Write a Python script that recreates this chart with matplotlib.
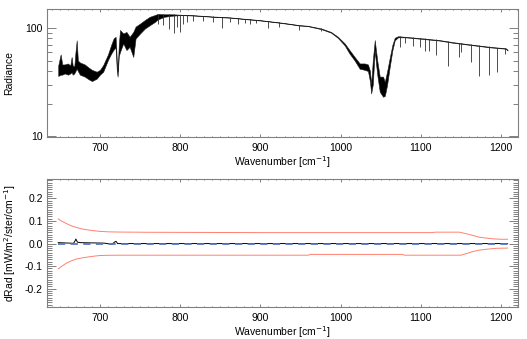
import matplotlib
matplotlib.use("Agg")
import matplotlib.pyplot as plt
from matplotlib.ticker import FixedLocator, MultipleLocator, NullFormatter

plt.rcParams['font.family'] = ['Liberation Sans', 'DejaVu Sans']

# ---------------- Top panel: radiance spectrum (envelope of noisy spectrum) ----------------
spec_wn = [648, 651, 653, 656, 660, 663, 664.7, 666, 668, 669.5, 671, 672.5, 675, 681, 686, 690,
           696, 700, 704, 710, 714, 717, 719.5, 721, 722, 723.5, 725, 729, 733, 737, 741.5, 744.4,
           750, 756, 762, 768.5, 772, 780, 790, 800, 810, 820, 840, 862, 880, 899, 910, 923, 935,
           948, 959, 976, 988, 996.5, 1005, 1011, 1017.4, 1023.7, 1030, 1034, 1036.5, 1038, 1040,
           1042.5, 1044, 1045.8, 1048.7, 1052.8, 1055, 1057.8, 1061, 1064.4, 1067.4, 1071.5, 1080,
           1100, 1123, 1140, 1161, 1186, 1205.6, 1208]
spec_hi = [45, 57, 46, 46, 47, 45, 54, 45, 44, 60, 77, 50, 48, 46, 43, 41,
           39.4, 41, 45.4, 57, 70, 80, 83, 50, 40, 70, 96, 89, 92, 83, 92, 103,
           110, 118.6, 127, 132, 135, 134, 134, 133, 132, 131, 128, 125.6, 122, 118.6, 116, 113, 110,
           106.6, 105, 99, 92, 83, 72, 62.5, 54, 47, 47, 46, 40, 30, 50,
           77.4, 62, 48.7, 35.5, 35.5, 31.8, 39.4, 52.4, 69.6, 81.3, 84, 83,
           80.5, 77.4, 74, 70.6, 67, 65, 63]
spec_lo = [36, 37, 37, 38, 37, 38, 39, 37, 38, 40, 42, 40, 37, 35.5, 33.5, 32.3,
           34, 37, 39.4, 50.6, 58, 63, 66, 40, 35.5, 55, 60, 72, 62.5, 67, 54, 80,
           89, 99, 106, 114, 120, 127, 130, 131.5, 131, 130, 127, 124.5, 121, 117.5, 115, 112, 109,
           105.5, 104, 97.5, 90.5, 81, 69, 58, 50, 42, 41, 40, 32, 24.8, 30,
           62, 47, 36, 25.7, 23.1, 23.5, 29.6, 43, 62, 77, 82, 82,
           79.5, 76.5, 73, 69.8, 66.2, 64.3, 62]

# absorption lines: position, continuum level, line-core radiance
line_wn = [772.5, 778, 786, 792.5, 795.5, 799.6, 803.8, 808.7, 815.4, 828.6, 841, 852.7, 862, 872,
           880.6, 886.8, 894, 909.6, 923, 948, 975.7, 1074.4, 1079.8, 1090.2, 1098.5, 1104.7, 1110,
           1119, 1133.8, 1147.5, 1150.4, 1162.9, 1172, 1184.4, 1195.2, 1204.3]
line_top = [134, 134, 134, 134, 133, 133, 133, 132, 131.5, 130, 128, 126.5, 125, 123,
            122, 121, 119.5, 116, 113, 106.6, 99, 84, 83, 82, 80.5, 80, 79.5,
            78.5, 75.5, 72.5, 72, 70.5, 69, 67.5, 66, 65]
line_bot = [108, 106, 98, 89, 103, 91, 110, 113, 116, 117, 114, 101, 113, 109,
            111, 109, 111, 99, 103, 96, 93.8, 67, 72, 68.6, 67, 61, 61,
            56, 44.8, 54, 60, 48.7, 36.2, 36.7, 39.4, 58]

# ---------------- Bottom panel: radiance differences ----------------
err_hi_wn = [648, 653, 658, 664, 670, 677, 684, 692, 700, 710, 725, 760, 900, 1113, 1118, 1148,
             1157, 1165, 1173, 1182, 1190, 1200, 1208]
err_hi = [0.109, 0.098, 0.089, 0.079, 0.072, 0.065, 0.061, 0.057, 0.054, 0.052, 0.051, 0.050,
          0.0485, 0.0485, 0.0505, 0.0505, 0.043, 0.036, 0.028, 0.024, 0.021, 0.019, 0.019]
err_lo_wn = [648, 653, 658, 664, 670, 677, 684, 692, 700, 710, 725, 800, 960, 962, 1076, 1080,
             1150, 1158, 1165, 1173, 1182, 1194, 1208]
err_lo = [-0.112, -0.099, -0.087, -0.077, -0.069, -0.064, -0.060, -0.056, -0.053, -0.052, -0.0515,
          -0.0515, -0.0515, -0.048, -0.048, -0.0515, -0.0515, -0.043, -0.035, -0.029, -0.025,
          -0.021, -0.020]
res_wn = [648, 655, 662, 667, 669, 670, 672, 676, 690, 705, 715, 718, 720, 722, 740, 800, 900,
          1000, 1100, 1208]
res = [0.004, 0.003, 0.002, 0.001, 0.012, 0.020, 0.006, 0.004, 0.003, 0.002, -0.003, 0.006,
       0.010, 0.000, 0.000, 0.000, 0.000, 0.000, 0.000, 0.000]
bias_wn = [648, 1208]
bias = [0.0, 0.0]

xticks = [700, 800, 900, 1000, 1100, 1200]

W, H = 527, 339
fig = plt.figure(figsize=(W / 100, H / 100), dpi=100)

left, right = 47 / W, 518 / W
ax1 = fig.add_axes([left, 1 - 137 / H, right - left, 128 / H])
ax2 = fig.add_axes([left, 1 - 307 / H, right - left, 128 / H])

spine_col = '#808080'
fs = 7.5

# top panel
ax1.fill_between(spec_wn, spec_lo, spec_hi, facecolor='black', edgecolor='#202020', lw=0.4)
ax1.vlines(line_wn, line_bot, line_top, color='#303030', lw=0.6)
ax1.set_yscale('log')
ax1.set_ylim(9.8, 150)
ax1.set_xlim(634, 1221)
ax1.yaxis.set_major_locator(FixedLocator([10, 100]))
ax1.yaxis.set_minor_locator(FixedLocator([20, 30, 40, 50, 60, 70, 80, 90]))
ax1.yaxis.set_minor_formatter(NullFormatter())
ax1.set_yticklabels(['10', '100'])
ax1.set_ylabel('Radiance', fontsize=fs, labelpad=8)

# bottom panel
ax2.plot(err_hi_wn, err_hi, color='#ff8070', lw=0.7)
ax2.plot(err_lo_wn, err_lo, color='#ff8070', lw=0.7)
ax2.plot(res_wn, res, color='black', lw=0.7)
ax2.plot(bias_wn, bias, color='#5577c0', lw=1.3, dashes=(4, 3))
ax2.set_xlim(634, 1221)
ax2.set_ylim(-0.281, 0.286)
ax2.yaxis.set_major_locator(MultipleLocator(0.1))
ax2.yaxis.set_minor_locator(MultipleLocator(0.01))
ax2.set_yticks([-0.2, -0.1, 0.0, 0.1, 0.2])
ax2.set_yticklabels(['-0.2', '-0.1', '0.0', '0.1', '0.2'])
ax2.set_ylabel('dRad [mW/m$^2$/ster/cm$^{-1}$]', fontsize=fs, labelpad=5)

for ax in (ax1, ax2):
    ax.set_xticks(xticks)
    ax.set_xticklabels([str(v) for v in xticks])
    ax.xaxis.set_minor_locator(MultipleLocator(10))
    ax.set_xlabel('Wavenumber [cm$^{-1}$]', fontsize=fs, labelpad=1)
    for s in ax.spines.values():
        s.set_color(spine_col)
        s.set_linewidth(0.8)
    ax.tick_params(axis='both', which='both', direction='in', top=True, right=True,
                   colors=spine_col, labelcolor='black', labelsize=fs, width=0.7)
    ax.tick_params(axis='x', which='major', length=1.9, pad=4)
    ax.tick_params(axis='x', which='minor', length=1.0)
    ax.tick_params(axis='y', which='major', length=6.8, pad=3)
    ax.tick_params(axis='y', which='minor', length=3.4)

fig.savefig('out.png', dpi=100)
